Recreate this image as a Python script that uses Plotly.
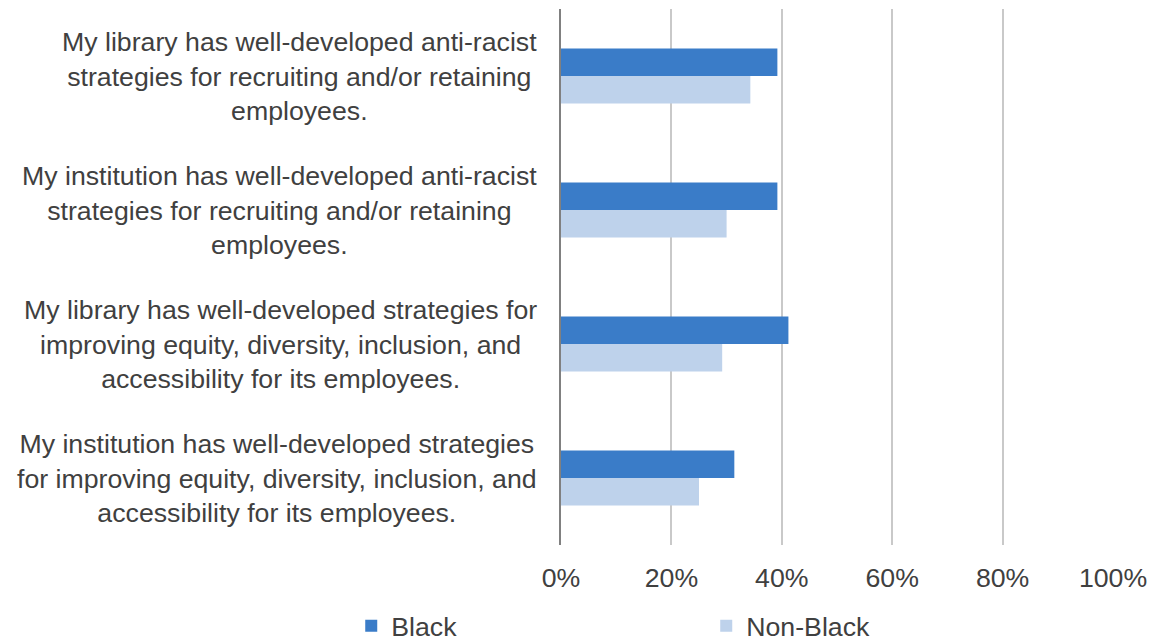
import plotly.graph_objects as go

categories = [
    "My library has well-developed anti-racist<br>strategies for recruiting and/or retaining<br>employees.",
    "My institution has well-developed anti-racist<br>strategies for recruiting and/or retaining<br>employees.",
    "My library has well-developed strategies for<br>improving equity, diversity, inclusion, and<br>accessibility for its employees.",
    "My institution has well-developed strategies<br>for improving equity, diversity, inclusion, and<br>accessibility for its employees.",
]
black = [0.392, 0.392, 0.412, 0.314]
non_black = [0.343, 0.300, 0.292, 0.250]
x_ticks = [0, 0.2, 0.4, 0.6, 0.8, 1.0]
x_tick_labels = ["0%", "20%", "40%", "60%", "80%", "100%"]

FONT = "Liberation Sans, Arial, sans-serif"
TEXT = "#404040"
SIZE = 26.7

fig = go.Figure()
fig.add_trace(go.Bar(name="Black", y=categories, x=black, orientation="h",
                     marker=dict(color="#3A7CC8", line=dict(width=0))))
fig.add_trace(go.Bar(name="Non-Black", y=categories, x=non_black, orientation="h",
                     marker=dict(color="#BED2EB", line=dict(width=0))))

# Category labels as centred multi-line text to the left of the axis
for cat in categories:
    fig.add_annotation(x=0, xref="paper", y=cat, yref="y", text=cat,
                       showarrow=False, xanchor="right", yanchor="middle",
                       align="center", xshift=-22,
                       font=dict(family=FONT, size=SIZE, color=TEXT))

fig.update_layout(
    width=1149, height=642,
    margin=dict(l=561, r=36, t=9, b=97, autoexpand=False),
    paper_bgcolor="white", plot_bgcolor="white",
    barmode="group", bargap=0.59, bargroupgap=0,
    font=dict(family=FONT, size=SIZE, color=TEXT),
    showlegend=True,
    legend=dict(orientation="h", x=-0.380, xanchor="left", y=-0.106, yanchor="top",
                entrywidth=310, entrywidthmode="pixels",
                font=dict(family=FONT, size=SIZE, color=TEXT), itemwidth=30),
)
fig.update_xaxes(range=[0, 1], tickvals=x_ticks, ticktext=x_tick_labels,
                 showgrid=True, gridcolor="#C9C9C9", gridwidth=1.5,
                 zeroline=False, showline=False, automargin=False,
                 ticks="outside", ticklen=9, tickcolor="rgba(0,0,0,0)",
                 tickfont=dict(family=FONT, size=SIZE, color=TEXT))
fig.update_yaxes(autorange="reversed", showticklabels=False, automargin=False,
                 showline=True, linecolor="#808080", linewidth=2,
                 showgrid=False, zeroline=False)

fig.write_html("out.html")
